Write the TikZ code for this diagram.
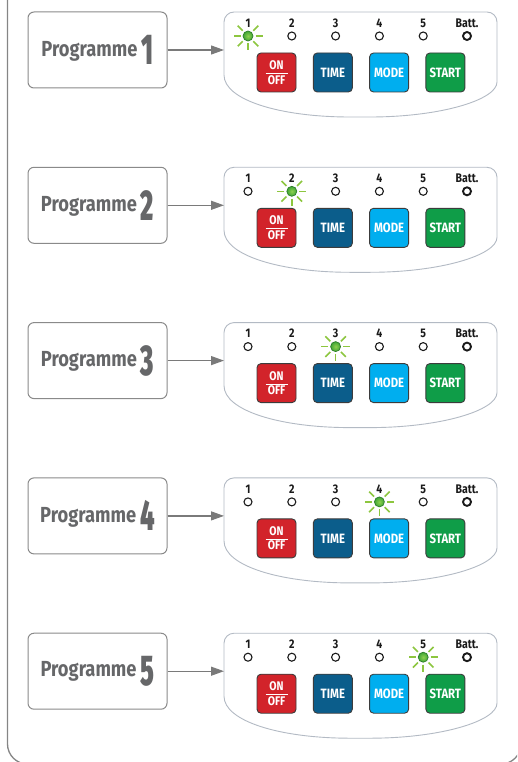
\documentclass[tikz,border=0pt]{standalone}
\usepackage{fontspec}
\setmainfont{Fira Sans}
\newfontfamily\narrow[FakeStretch=0.84]{Fira Sans}
\newfontfamily\tallnum[FakeStretch=0.58]{Fira Sans ExtraBold}
\usetikzlibrary{arrows.meta,calc}
\definecolor{ink}{HTML}{1A1A1A}
\definecolor{frmg}{HTML}{858585}
\definecolor{boxg}{HTML}{8A8A8A}
\definecolor{txtg}{HTML}{666769}
\definecolor{pnlg}{HTML}{B3BAC4}
\definecolor{arrg}{HTML}{7A7A7A}
\definecolor{bred}{HTML}{D2232A}
\definecolor{tblu}{HTML}{0B5D8B}
\definecolor{mblu}{HTML}{00AEEF}
\definecolor{sgrn}{HTML}{0F9D48}
\definecolor{ledg}{HTML}{3FA535}
\definecolor{ledhi}{HTML}{8FD14F}
\definecolor{ledrim}{HTML}{2E7D2A}
\definecolor{rayg}{HTML}{8DC63F}
\tikzset{
  frame/.style ={draw=frmg,line width=1.3pt,rounded corners=20pt},
  prog/.style  ={draw=boxg,line width=1pt,rounded corners=6pt,fill=white,minimum width=139pt,minimum height=76pt,inner sep=0pt,text=txtg,font=\narrow\bfseries\fontsize{21.8}{24}\selectfont},
  pnl/.style   ={draw=pnlg,line width=.9pt,fill=white,rounded corners=10pt},
  lbl/.style   ={font=\narrow\bfseries\fontsize{12.5}{13}\selectfont,text=ink,inner sep=0pt},
  led/.style   ={circle,draw=ink,line width=1.1pt,fill=white,minimum size=8pt,inner sep=0pt},
  ledon/.style ={circle,draw=ledrim,line width=.7pt,inner color=ledhi,outer color=ledg,minimum size=10pt,inner sep=0pt},
  ray/.style   ={draw=rayg,line width=1.6pt},
  btn/.style   ={draw=ink!85,line width=.9pt,rounded corners=4pt,minimum size=39pt,inner sep=0pt,text=white,font=\narrow\bfseries\fontsize{13.5}{14}\selectfont},
  arr/.style   ={-{Triangle[length=13pt,width=9pt]},line width=1.2pt,draw=arrg,fill=arrg},
}
\begin{document}
\begin{tikzpicture}[x=1pt,y=-1pt]
\clip (0,0) rectangle (517,762);
% ===== outer frame =====
\draw[frame] (7.5,-30) -- (7.5,764) -- (521,764) -- (521,-30);

% ===== one row per programme =====
\foreach \i in {1,...,5}{
  \pgfmathsetmacro{\dy}{(\i-1)*155.3}
  \begin{scope}[shift={(0,\dy)}]
    \node[prog] (prog\i) at (97.5,50) {Programme\hspace{4pt}\raisebox{-8.4pt}{\tallnum\fontsize{43}{43}\selectfont\i}};
    % control panel
    \draw[pnl] (224,65) -- (224,12) -- (497,12) -- (497,72)
      .. controls (497,100) and (440,117) .. (360,117)
      .. controls (280,117) and (224,100) .. (224,65) -- cycle;
    \coordinate (pin\i) at (224,50);
    \draw[arr] (prog\i.east) -- (pin\i);
    % leds (the lit one glows, its label hides the upper ray)
    \foreach \j/\x in {1/248,2/291.8,3/335.6,4/379.4,5/423.2}{
      \node[lbl] (num\i-\j) at (\x,23) {\j};
      \ifnum\j=\i
        \node[ledon] (led\i-\j) at (\x,36) {};
        \foreach \a in {0,45,90,135,180,225,315}
          \draw[ray] ($(led\i-\j)+(\a:7.5)$) -- ($(led\i-\j)+(\a:14.5)$);
      \else
        \node[led] (led\i-\j) at (\x,36) {};
      \fi
    }
    \node[lbl] (num\i-6) at (467,23) {Batt.};
    \node[led,line width=1.9pt] (led\i-6) at (467,36) {};
    % buttons
    \node[btn,fill=bred,align=center,font=\narrow\bfseries\fontsize{12.5}{4.5}\selectfont] (onoff\i) at (276.5,72.5)
      {ON\\\rule{22pt}{1.2pt}\\OFF};
    \node[btn,fill=tblu] (time\i)  at (332.8,72.5) {TIME};
    \node[btn,fill=mblu] (mode\i)  at (389.1,72.5) {MODE};
    \node[btn,fill=sgrn] (start\i) at (445.4,72.5) {START};
  \end{scope}
}
\end{tikzpicture}
\end{document}
